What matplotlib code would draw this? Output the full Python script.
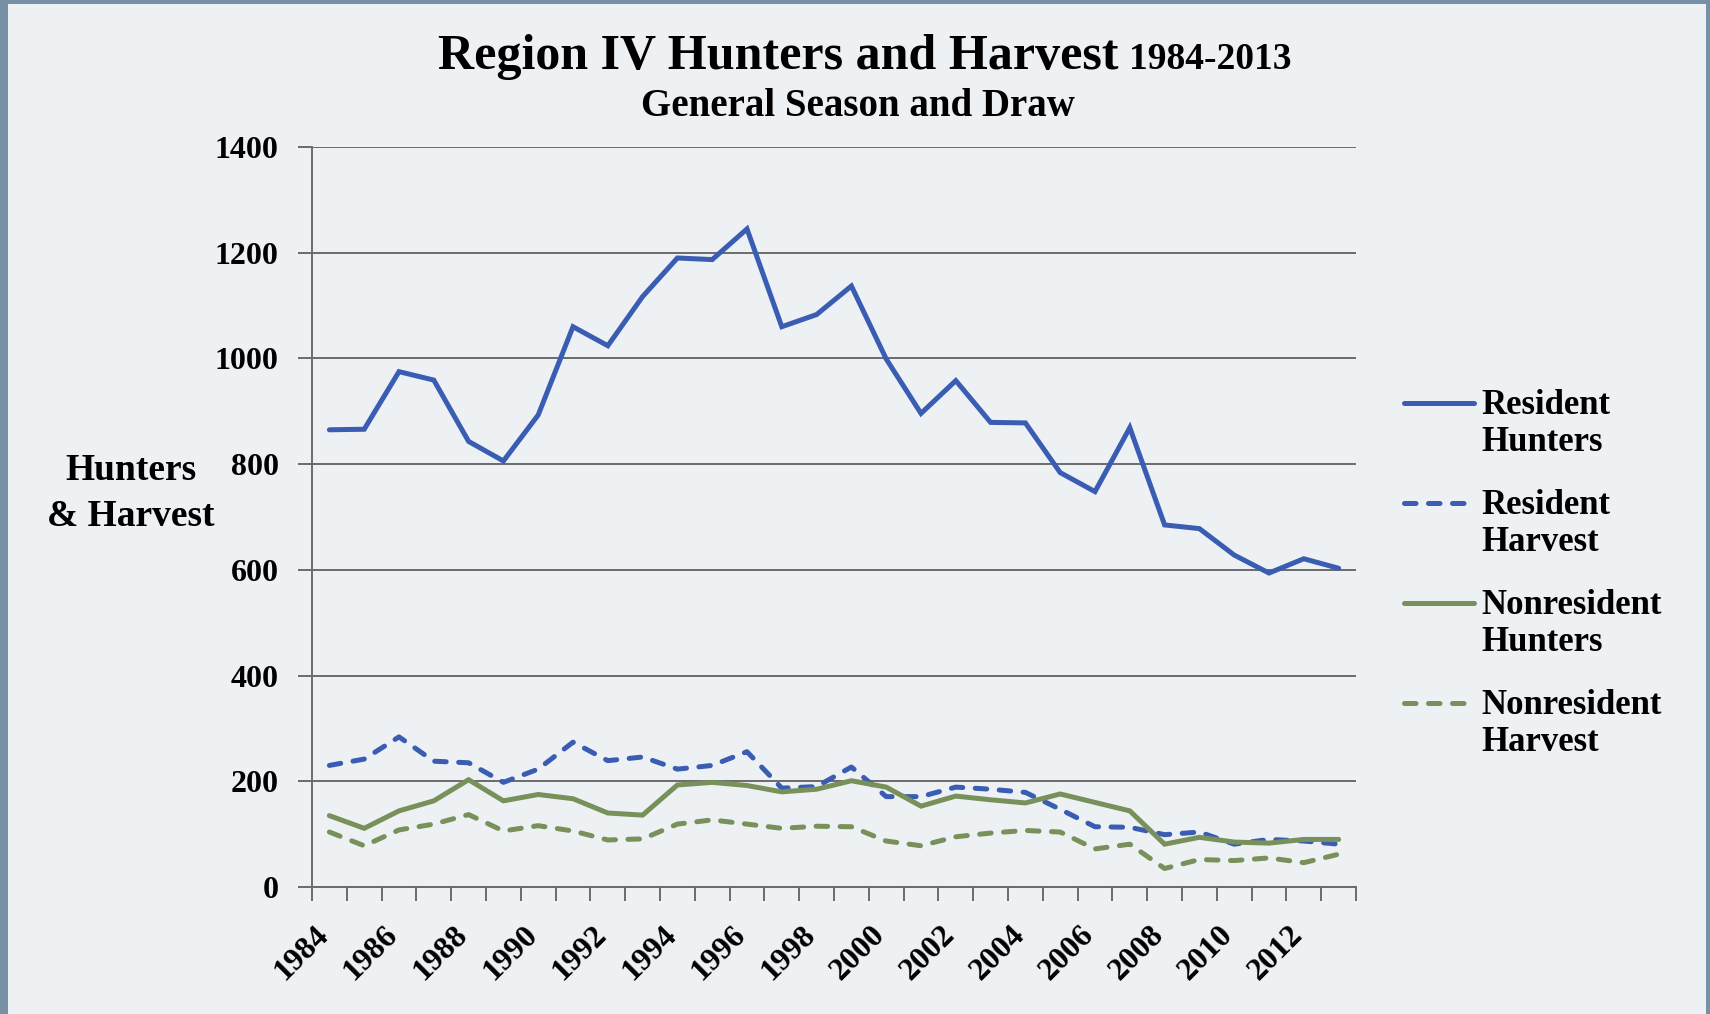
import matplotlib
matplotlib.use("Agg")
import matplotlib.pyplot as plt
from matplotlib.lines import Line2D
from matplotlib.patches import Rectangle
from matplotlib.transforms import ScaledTranslation

plt.rcParams['font.family'] = ['Liberation Serif', 'DejaVu Serif']
plt.rcParams['font.weight'] = 'bold'

# -------------------------------
# Datos
# -------------------------------
years = list(range(1984, 2014))
resident_hunters = [865, 866, 975, 959, 843, 806, 893, 1060, 1024, 1117,
                    1190, 1187, 1245, 1060, 1083, 1137, 999, 896, 958, 879,
                    878, 784, 748, 869, 685, 678, 628, 594, 621, 603]
resident_harvest = [230, 242, 284, 238, 235, 198, 223, 274, 239, 246,
                    223, 230, 256, 187, 190, 227, 171, 171, 189, 185,
                    179, 147, 114, 113, 99, 104, 81, 90, 87, 81]
nonres_hunters = [135, 111, 144, 163, 203, 163, 175, 167, 140, 136,
                  193, 198, 192, 180, 185, 201, 189, 153, 172, 165,
                  159, 176, 160, 144, 81, 94, 85, 83, 90, 90]
nonres_harvest = [104, 78, 108, 119, 137, 106, 116, 106, 89, 91,
                  119, 127, 119, 111, 115, 114, 87, 78, 95, 102,
                  107, 104, 72, 81, 35, 52, 50, 55, 46, 62]
series_labels = ["Resident\nHunters", "Resident\nHarvest",
                 "Nonresident\nHunters", "Nonresident\nHarvest"]

BLUE = "#3A5DB3"
GREEN = "#78905A"
GRID = "#6B6B6B"
BG = "#EDF1F4"
BORDER = "#7890A6"

W, H = 1710, 1014
fig = plt.figure(figsize=(W / 100, H / 100), dpi=100)
fig.patch.set_facecolor(BORDER)
fig.add_artist(Rectangle((8 / W, 0), (W - 12) / W, (H - 4) / H,
                         transform=fig.transFigure, facecolor=BG,
                         edgecolor='none', zorder=0))

ax = fig.add_axes([312 / W, 1 - 887 / H, (1356 - 312) / W, (887 - 147) / H])
ax.set_facecolor(BG)

x = list(range(len(years)))
estilos = [
    (resident_hunters, BLUE, '-'),
    (resident_harvest, BLUE, '--'),
    (nonres_hunters, GREEN, '-'),
    (nonres_harvest, GREEN, '--'),
]
LW = 3.6
DASH = (2.3, 2.5)
for vals, color, ls in estilos:
    line, = ax.plot(x, vals, color=color, lw=LW, linestyle=ls,
                    solid_capstyle='round', solid_joinstyle='miter',
                    dash_capstyle='round', zorder=3, clip_on=False)
    if ls == '--':
        line.set_dashes(DASH)

# Ejes
ax.set_xlim(-0.5, len(years) - 0.5)
ax.set_ylim(0, 1400)
ax.set_yticks(range(0, 1401, 200))
ax.grid(True, axis='y', color=GRID, lw=1.4, zorder=1)
for s in ['top', 'right']:
    ax.spines[s].set_visible(False)
for s in ['left', 'bottom']:
    ax.spines[s].set_color(GRID)
    ax.spines[s].set_linewidth(1.4)
ax.tick_params(axis='y', direction='out', length=10, width=1.4, color=GRID,
               pad=14, labelsize=23)

ax.set_xticks(x[::2])
ax.set_xticklabels([str(y) for y in years[::2]], rotation=45, ha='right',
                   va='top')
ax.set_xticks([i - 0.5 for i in range(len(years) + 1)], minor=True)
ax.tick_params(axis='x', which='major', length=0, pad=24, labelsize=23)
ax.tick_params(axis='x', which='minor', direction='out', length=10,
               width=1.4, color=GRID)
desplazar = ScaledTranslation(5 / 100, 0, fig.dpi_scale_trans)
for lbl in ax.get_xticklabels():
    lbl.set_transform(lbl.get_transform() + desplazar)

# Titulos
fig.text(1118 / W, 1 - 69 / H, "Region IV Hunters and Harvest",
         ha='right', va='baseline', fontsize=36)
fig.text(1129 / W, 1 - 69 / H, "1984-2013", ha='left', va='baseline',
         fontsize=27)
fig.text(858 / W, 1 - 116 / H, "General Season and Draw", ha='center',
         va='baseline', fontsize=28)
fig.text(131 / W, 1 - 526 / H, "Hunters\n& Harvest", ha='center',
         va='baseline', multialignment='center', fontsize=27,
         linespacing=1.39)

# Leyenda
leg_y = [403, 503, 603, 703]
for (vals, color, ls), label, yy in zip(estilos, series_labels, leg_y):
    if ls == '-':
        xs = [1404 / W, 1474 / W]
    else:
        xs = [1404 / W, 1468 / W]
    ln = Line2D(xs, [1 - yy / H] * 2, transform=fig.transFigure,
                color=color, lw=LW, solid_capstyle='round',
                dash_capstyle='round')
    if ls == '--':
        ln.set_dashes(DASH)
    fig.add_artist(ln)
    fig.text(1481 / W, 1 - (yy + 48) / H, label, ha='left', va='baseline',
             fontsize=25, linespacing=1.155)

fig.savefig("out.png", dpi=100, facecolor=fig.get_facecolor())
plt.close(fig)
